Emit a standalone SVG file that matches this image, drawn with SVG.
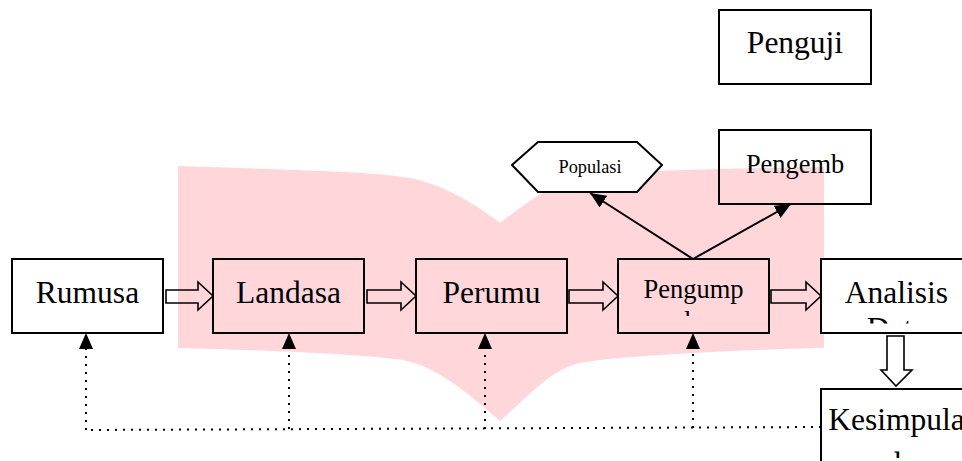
<svg xmlns="http://www.w3.org/2000/svg" width="962" height="461" viewBox="0 0 962 461">
<style>
.box{fill:none;stroke:#000;stroke-width:2}
.wbox{fill:#fff;stroke:#000;stroke-width:2}
text{font-family:'Liberation Serif','DejaVu Serif',serif;fill:#000;text-anchor:middle}
.blk{fill:none;stroke:#000;stroke-width:1.6;stroke-linejoin:miter}
.sol{fill:none;stroke:#000;stroke-width:2}
.dot{fill:none;stroke:#000;stroke-width:2;stroke-dasharray:2 6}
</style>
<defs>
<marker id="ah" markerWidth="16" markerHeight="14" refX="16" refY="7" orient="auto" markerUnits="userSpaceOnUse">
<path d="M0,0 L16,7 L0,14 Z" fill="#000"/>
</marker>
<clipPath id="cPeng"><rect x="619" y="260" width="149" height="56"/></clipPath>
<clipPath id="cAna"><rect x="822" y="260" width="150" height="63.5"/></clipPath>
<clipPath id="cKes"><rect x="822" y="390" width="150" height="68"/></clipPath>
</defs>
<path id="book" d="M178,166 C300,170 380,172 410,178 C440,184 470,200 500,223 C530,200 550,185 580,177 C620,170 760,168 824,167 L824,348 C760,349 620,355 580,363 C550,370 530,395 500,421 C470,395 440,368 403,360 C360,354 260,350 178,348 Z" fill="#ffd7db"/>
<g id="connectors">
<path class="blk" d="M166,290 H198 V282 L213,296 L198,310 V303 H166 Z"/>
<path class="blk" d="M367,290 H401 V282 L416,296 L401,310 V303 H367 Z"/>
<path class="blk" d="M569,290 H603 V282 L618,296 L603,310 V303 H569 Z"/>
<path class="blk" d="M771,290 H806 V282 L821,296 L806,310 V303 H771 Z"/>
<path class="blk" d="M887,336 H904 V370 H912 L896,386 L881,370 H887 Z"/>
<line class="sol" x1="693" y1="259" x2="590" y2="193" marker-end="url(#ah)"/>
<line class="sol" x1="693" y1="259" x2="791" y2="204" marker-end="url(#ah)"/>
<polyline class="dot" points="821,427 86,430"/>
<line class="dot" x1="86" y1="430" x2="86" y2="333" marker-end="url(#ah)"/>
<line class="dot" x1="289" y1="429" x2="289" y2="333" marker-end="url(#ah)"/>
<line class="dot" x1="485" y1="429" x2="485" y2="333" marker-end="url(#ah)"/>
<line class="dot" x1="693" y1="428" x2="693" y2="333" marker-end="url(#ah)"/>
</g>
<g id="rumusan">
<rect class="box" x="12" y="259" width="151" height="74"/>
<text x="87.5" y="303" font-size="31.5">Rumusa</text>
</g>
<g id="landasan">
<rect class="box" x="213" y="259" width="151" height="74"/>
<text x="288.5" y="303" font-size="31.5">Landasa</text>
</g>
<g id="perumusan">
<rect class="box" x="416" y="259" width="151" height="74"/>
<text x="491.5" y="303" font-size="31.5">Perumu</text>
</g>
<g id="pengumpulan">
<rect class="box" x="618" y="259" width="151" height="74"/>
<g clip-path="url(#cPeng)">
<text x="693.5" y="298" font-size="26.5">Pengump</text>
<text x="693.5" y="330" font-size="26.5">ulan</text>
</g>
</g>
<g id="analisis">
<rect class="wbox" x="821" y="259" width="151" height="74"/>
<g clip-path="url(#cAna)">
<text x="896.5" y="303" font-size="31.5">Analisis</text>
<text x="896.5" y="339" font-size="31.5">Data</text>
</g>
</g>
<g id="kesimpulan">
<rect class="wbox" x="821" y="389" width="151" height="80"/>
<g clip-path="url(#cKes)">
<text x="896.5" y="430" font-size="31.5">Kesimpula</text>
<text x="896.5" y="474" font-size="31.5">n dan</text>
</g>
</g>
<g id="populasi">
<polygon class="wbox" points="512,165 538,142 637,142 662,165 637,192 538,192"/>
<text x="590" y="173" font-size="18.3">Populasi</text>
</g>
<g id="penguji">
<rect class="wbox" x="719" y="10" width="152" height="74"/>
<text x="795" y="53" font-size="31.5">Penguji</text>
</g>
<g id="pengembangan">
<rect class="box" x="719" y="130" width="152" height="74"/>
<text x="795" y="173" font-size="26.4">Pengemb</text>
</g>
</svg>
